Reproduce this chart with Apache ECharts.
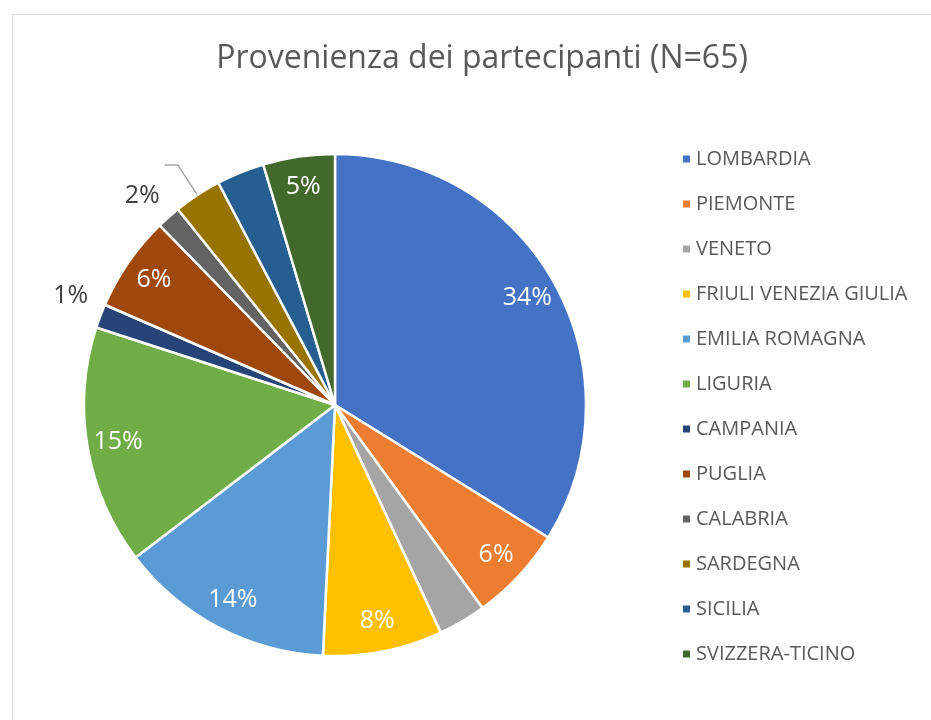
<!DOCTYPE html>
<html>
<head>
<meta charset="utf-8">
<script src="https://cdn.jsdelivr.net/npm/echarts@6/dist/echarts.min.js"></script>
<style>
  html, body { margin: 0; padding: 0; background: #fff; overflow: hidden; }
  #main { width: 931px; height: 720px; }
</style>
</head>
<body>
<div id="main"></div>
<script>
var myChart = echarts.init(document.getElementById('main'));

var regions = ['LOMBARDIA', 'PIEMONTE', 'VENETO', 'FRIULI VENEZIA GIULIA', 'EMILIA ROMAGNA',
    'LIGURIA', 'CAMPANIA', 'PUGLIA', 'CALABRIA', 'SARDEGNA', 'SICILIA', 'SVIZZERA-TICINO'];
var counts = [22, 4, 2, 5, 9, 10, 1, 4, 1, 2, 2, 3];
// labels as printed on the chart ('' = no label shown)
var shownLabels = ['34%', '6%', '', '8%', '14%', '15%', '1%', '6%', '', '2%', '', '5%'];
var labelPlace = ['inside', 'inside', '', 'inside', 'inside', 'inside', 'outside', 'inside', '', 'outside', '', 'inside'];
var colors = ['#4472C4', '#ED7D31', '#A5A5A5', '#FFC000', '#5B9BD5', '#70AD47',
    '#264478', '#9E480E', '#636363', '#997300', '#255E91', '#43682B'];

var fontFam = '"Open Sans", "Noto Sans", sans-serif';

var pieData = regions.map(function (name, i) {
    var item = { name: name, value: counts[i] };
    if (labelPlace[i] === 'outside') {
        if (name === 'SARDEGNA') {
            // label sits below the end of its leader line
            item.label = { show: true, formatter: '\n\n' + shownLabels[i], lineHeight: 31 };
            item.labelLine = { show: true, length: 36, length2: 13 };
        } else {
            item.label = { show: true, formatter: shownLabels[i] + '\n', lineHeight: 32, distanceToLabelLine: 1 };
            item.labelLine = { show: false, length: 12, length2: 0 };
        }
    }
    return item;
});

var innerLabelData = regions.map(function (name, i) {
    return {
        name: name,
        value: counts[i],
        label: { show: labelPlace[i] === 'inside', formatter: shownLabels[i] }
    };
});

var option = {
    backgroundColor: '#fff',
    color: colors,
    animation: false,
    title: {
        text: 'Provenienza dei partecipanti (N=65)',
        left: 477,
        top: 38,
        textAlign: 'center',
        textStyle: {
            color: '#595959',
            fontFamily: fontFam,
            fontWeight: 'normal',
            fontSize: 32
        }
    },
    graphic: [
        {
            type: 'rect',
            silent: true,
            shape: { x: 12.5, y: 14.5, width: 1000, height: 1000 },
            style: { fill: 'none', stroke: '#d9d9d9', lineWidth: 1 }
        }
    ],
    legend: {
        orient: 'vertical',
        left: 676,
        top: 144,
        icon: 'rect',
        itemWidth: 9,
        itemHeight: 9,
        itemGap: 25,
        data: regions,
        textStyle: {
            color: '#595959',
            fontFamily: fontFam,
            fontSize: 20,
            lineHeight: 20
        }
    },
    series: [
        {
            type: 'pie',
            center: [335, 405],
            radius: [0, 251],
            startAngle: 90,
            clockwise: true,
            avoidLabelOverlap: false,
            itemStyle: { borderColor: '#fff', borderWidth: 2.5 },
            label: {
                show: false,
                position: 'outside',
                color: '#404040',
                fontFamily: fontFam,
                fontSize: 25
            },
            labelLine: {
                lineStyle: { color: '#a6a6a6', width: 1.5 }
            },
            emphasis: { disabled: true },
            data: pieData
        },
        {
            // invisible twin ring, only used to place the inner labels
            type: 'pie',
            center: [335, 405],
            radius: [0, 434],
            startAngle: 90,
            clockwise: true,
            silent: true,
            avoidLabelOverlap: false,
            itemStyle: { color: 'rgba(0,0,0,0)', borderWidth: 0 },
            label: {
                position: 'inside',
                color: '#fff',
                fontFamily: fontFam,
                fontSize: 25
            },
            labelLine: { show: false },
            emphasis: { disabled: true },
            data: innerLabelData
        }
    ]
};

myChart.setOption(option);
</script>
</body>
</html>
